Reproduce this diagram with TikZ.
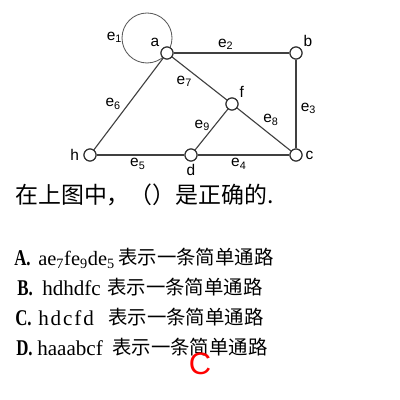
\documentclass[tikz,border=0pt]{standalone}
\usepackage{fontspec}
\setmainfont{Liberation Serif}
\newfontfamily\cjk{Noto Sans CJK SC}
\newfontfamily\graphfont{Liberation Sans}
\newfontfamily\widefont[LetterSpace=9]{Liberation Serif}
\newfontfamily\lblfont[FakeStretch=0.75]{Liberation Serif}
\usetikzlibrary{positioning}
\tikzset{
  vert/.style  = {circle, draw=black!80, fill=white, thick, minimum size=3mm, inner sep=0pt},
  edge/.style  = {draw=black!75, thick},
  lbl/.style   = {font=\graphfont\fontsize{11}{12}\selectfont, inner sep=1pt},
  txt/.style   = {anchor=base west, inner sep=0pt},
  qtxt/.style  = {txt, font=\cjk\fontsize{16.3}{18}\selectfont},
  optlbl/.style= {txt, font=\lblfont\bfseries\fontsize{16}{17}\selectfont},
  opttxt/.style= {txt, font=\fontsize{15}{17}\selectfont},
  optcjk/.style= {txt, font=\cjk\fontsize{13.8}{16}\selectfont},
}
\newcommand{\es}[1]{e\textsubscript{#1}}
\begin{document}
\begin{tikzpicture}[x=0.025cm, y=-0.025cm]
  \useasboundingbox (0,0) rectangle (400,400);

  % vertices
  \coordinate (loopc) at (147,38);
  \node[vert] (a) at (167,53)  {};
  \node[vert] (b) at (296,53)  {};
  \node[vert] (f) at (232,104) {};
  \node[vert] (h) at (90,155)  {};
  \node[vert] (d) at (191,155) {};
  \node[vert] (c) at (296,155) {};

  % edges
  \draw[draw=black!65, semithick] (loopc) circle[radius=25];
  \draw[edge] (a) -- node[lbl, above=1pt, pos=0.45] {\es{2}} (b);
  \draw[edge] (b) -- node[lbl, right=2pt, pos=0.55] {\es{3}} (c);
  \draw[edge] (d) -- node[lbl, below=1pt, pos=0.45] {\es{4}} (c);
  \draw[edge] (h) -- node[lbl, below=1pt, pos=0.47] {\es{5}} (d);
  \draw[edge] (a) -- node[lbl, left=4pt, pos=0.5] {\es{6}} (h);
  \draw[edge] (a) -- node[lbl, below left=0pt and 0pt, pos=0.4] {\es{7}} (f);
  \draw[edge] (f) -- node[lbl, above right=0pt and 0pt, pos=0.45] {\es{8}} (c);
  \draw[edge] (d) -- node[lbl, left=2pt, pos=0.6] {\es{9}} (f);
  \foreach \v in {a,b,f,h,d,c}
    \node[vert] at (\v) {};

  % vertex names
  \node[lbl, above left=0pt and 1pt of a]  (la) {a};
  \node[lbl, above right=0pt and 1pt of b] (lb) {b};
  \node[lbl, above right=0pt and 1pt of f] (lf) {f};
  \node[lbl, left=2pt of h]                (lh) {h};
  \node[lbl, below=1pt of d]               (ld) {d};
  \node[lbl, right=1pt of c]               (lc) {c};
  \node[lbl, left=26pt of a, yshift=11pt]  (le1) {\es{1}};

  % question
  \node[qtxt] (q) at (15,203) {在上图中，（）是正确的.};

  % options
  \node[optlbl] (optA)  at (14,265)  {A.};
  \node[opttxt, font=\fontsize{14.5}{17}\selectfont] (optAx) at (38,265)
       {ae\textsubscript{7}fe\textsubscript{9}de\textsubscript{5}};
  \node[optcjk] (optAc) at (118,264) {表示一条简单通路};

  \node[optlbl] (optB)  at (17,295)  {B.};
  \node[opttxt] (optBx) at (42,295)  {hdhdfc};
  \node[optcjk] (optBc) at (107,294) {表示一条简单通路};

  \node[optlbl] (optC)  at (15,325)  {C.};
  \node[opttxt] (optCx) at (38,325)  {\widefont hdcfd};
  \node[optcjk] (optCc) at (108,324) {表示一条简单通路};

  \node[optlbl] (optD)  at (16,355)  {D.};
  \node[opttxt] (optDx) at (37,355)  {haaabcf};
  \node[optcjk] (optDc) at (112,354) {表示一条简单通路};

  % answer mark
  \node[font=\graphfont\fontsize{22}{24}\selectfont, text=red] (ans) at (200,364) {C};
\end{tikzpicture}
\end{document}
